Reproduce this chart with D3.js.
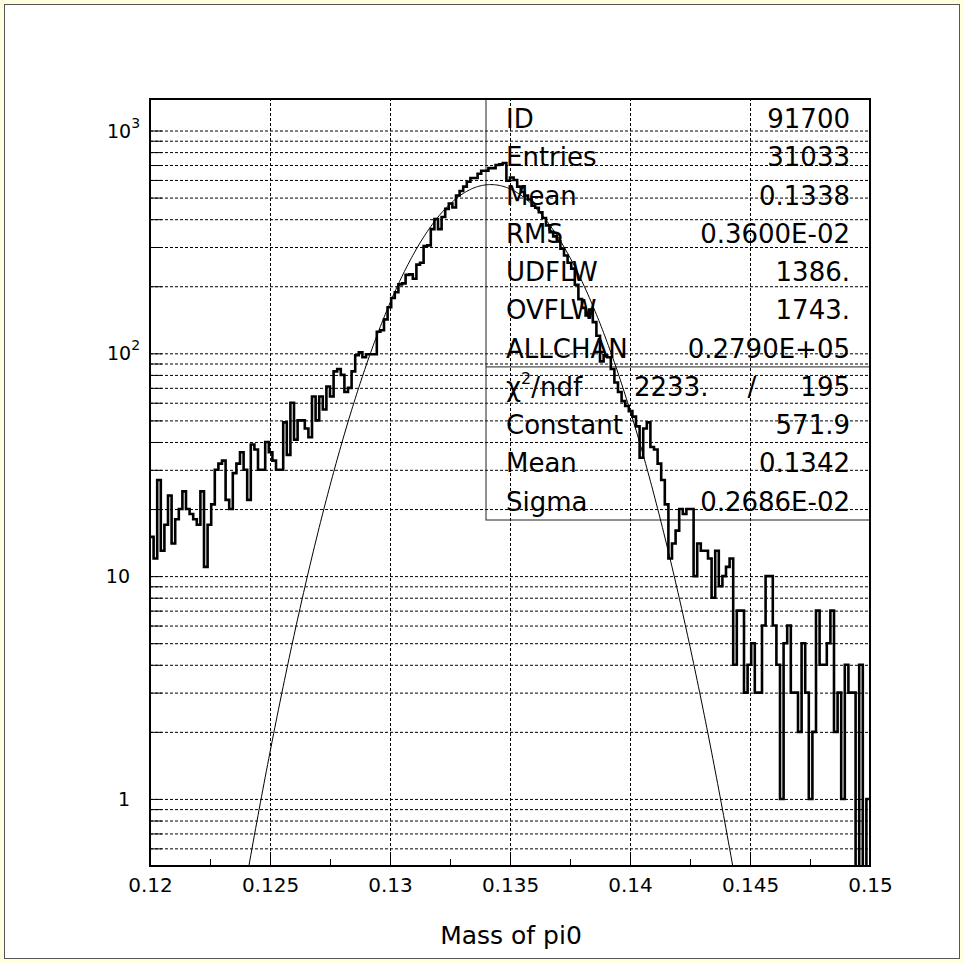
<!DOCTYPE html>
<html>
<head>
<meta charset="utf-8">
<script src="https://cdn.jsdelivr.net/npm/d3@7"></script>
<style>
  body { margin: 0; background: #ffffe0; }
  text { font-family: "DejaVu Sans", sans-serif; fill: #000; }
</style>
</head>
<body>
<svg id="chart" width="964" height="963"></svg>
<script>
// histogram: 200 bins from 0.12 to 0.15
const xMin = 0.12;
const xMax = 0.15;
const counts = [
  15, 12, 27, 13, 17, 23, 14, 18, 20, 24, 20, 19, 18, 17, 24, 11, 17, 21, 30, 32,
  33, 22, 20, 29, 32, 36, 30, 22, 39, 37, 30, 30, 40, 36, 33, 30, 30, 49, 35, 60,
  41, 50, 50, 46, 42, 64, 50, 64, 56, 71, 64, 83, 85, 80, 67, 70, 83, 98, 101, 96,
  99, 99, 99, 125, 127, 142, 161, 177, 188, 204, 206, 225, 226, 216, 250, 255, 303, 305, 361, 401,
  361, 409, 445, 470, 451, 511, 535, 560, 589, 612, 612, 640, 660, 660, 678, 678, 700, 705, 715, 595,
  615, 600, 560, 530, 510, 490, 460, 450, 430, 405, 375, 350, 335, 318, 295, 275, 255, 240, 203, 175,
  160, 148, 157, 138, 120, 92, 98, 96, 85, 74, 67, 61, 58, 55, 52, 47, 34, 46, 49, 38,
  37, 32, 27, 21, 12, 14, 16, 20, 19, 20, 20, 10, 14, 13, 13, 12, 8, 13, 9, 10,
  11, 12, 4, 7, 7, 3, 4, 5, 3, 3, 6, 10, 10, 6, 4, 1, 5, 6, 3, 3,
  2, 5, 3, 1, 2, 7, 4, 4, 5, 7, 2, 3, 1, 4, 3, 3, 0, 4, 0, 1
];

// gaussian fit parameters
const fitConstant = 571.9;
const fitMean = 0.1342;
const fitSigma = 0.2686e-2;

// axis ticks
const xMajorTicks = [0.12, 0.125, 0.13, 0.135, 0.14, 0.145, 0.15];
const xMinorTicks = [0.1225, 0.1275, 0.1325, 0.1375, 0.1425, 0.1475];
const yDecades = [1, 10, 100, 1000];
const yGrid = [0.6, 0.7, 0.8, 0.9, 1, 2, 3, 4, 5, 6, 7, 8, 9, 10, 20, 30, 40, 50, 60, 70, 80, 90,
  100, 200, 300, 400, 500, 600, 700, 800, 900, 1000];

// statistics box
const statLabels = ["ID", "Entries", "Mean", "RMS", "UDFLW", "OVFLW", "ALLCHAN"];
const statValues = ["91700", "31033", "0.1338", "0.3600E-02", "1386.", "1743.", "0.2790E+05"];
const fitLabels = ["Constant", "Mean", "Sigma"];
const fitValues = ["571.9", "0.1342", "0.2686E-02"];
const chi2 = "2233.";
const ndf = "195";

const svg = d3.select("#chart");

// page frame
svg.append("rect")
  .attr("x", 4.5).attr("y", 4.5)
  .attr("width", 955).attr("height", 954)
  .attr("fill", "#fff")
  .attr("stroke", "#555")
  .attr("stroke-width", 1);

const pLeft = 150, pRight = 870, pTop = 99, pBottom = 866;
const plotW = pRight - pLeft, plotH = pBottom - pTop;

const x = d3.scaleLinear().domain([xMin, xMax]).range([pLeft, pRight]);
const y = d3.scaleLog().domain([0.5, 1385]).range([pBottom, pTop]);

svg.append("clipPath").attr("id", "plotClip")
  .append("rect").attr("x", pLeft).attr("y", pTop).attr("width", plotW).attr("height", plotH);

// grid
svg.append("g")
  .attr("transform", `translate(${pLeft},0)`)
  .call(d3.axisLeft(y).tickValues(yGrid).tickSize(-plotW).tickFormat(""))
  .call(g => g.select(".domain").remove())
  .call(g => g.selectAll("line").attr("stroke", "#000").attr("stroke-dasharray", "3,2"));

svg.append("g")
  .attr("transform", `translate(0,${pBottom})`)
  .call(d3.axisBottom(x).tickValues(xMajorTicks.slice(1, -1)).tickSize(-plotH).tickFormat(""))
  .call(g => g.select(".domain").remove())
  .call(g => g.selectAll("line").attr("stroke", "#000").attr("stroke-dasharray", "3,2"));

// statistics box
const boxLeft = 486, boxBottom = 520, rowH = (boxBottom - pTop) / 11;
const box = svg.append("g");
box.append("rect")
  .attr("x", boxLeft).attr("y", pTop)
  .attr("width", pRight - boxLeft).attr("height", boxBottom - pTop)
  .attr("fill", "none").attr("stroke", "#222").attr("stroke-width", 1);
box.append("line")
  .attr("x1", boxLeft).attr("x2", pRight)
  .attr("y1", pTop + rowH * 7).attr("y2", pTop + rowH * 7)
  .attr("stroke", "#222").attr("stroke-width", 1);

const rowY = i => pTop + rowH * i + 29;
const fs = 26;
statLabels.forEach((t, i) => {
  box.append("text").attr("x", 506).attr("y", rowY(i)).attr("font-size", fs).text(t);
  box.append("text").attr("x", 850).attr("y", rowY(i)).attr("font-size", fs)
    .attr("text-anchor", "end").text(statValues[i]);
});
const chiRow = box.append("text").attr("x", 506).attr("y", rowY(7)).attr("font-size", fs);
chiRow.append("tspan").text("χ");
chiRow.append("tspan").attr("font-size", 16).attr("dy", -12).text("2");
chiRow.append("tspan").attr("dy", 12).text("/ndf");
box.append("text").attr("x", 634).attr("y", rowY(7)).attr("font-size", fs).text(chi2);
box.append("text").attr("x", 752).attr("y", rowY(7)).attr("font-size", fs)
  .attr("text-anchor", "middle").text("/");
box.append("text").attr("x", 850).attr("y", rowY(7)).attr("font-size", fs)
  .attr("text-anchor", "end").text(ndf);
fitLabels.forEach((t, i) => {
  box.append("text").attr("x", 506).attr("y", rowY(8 + i)).attr("font-size", fs).text(t);
  box.append("text").attr("x", 850).attr("y", rowY(8 + i)).attr("font-size", fs)
    .attr("text-anchor", "end").text(fitValues[i]);
});

// histogram outline
const binW = (xMax - xMin) / counts.length;
const steps = counts.map((c, i) => ({ x: xMin + i * binW, c }));
steps.push({ x: xMax, c: counts[counts.length - 1] });
const stepLine = d3.line()
  .x(d => x(d.x))
  .y(d => d.c > 0 ? y(d.c) : pBottom + 10)
  .curve(d3.curveStepAfter);

const plot = svg.append("g").attr("clip-path", "url(#plotClip)");
plot.append("path")
  .datum(steps)
  .attr("d", stepLine)
  .attr("fill", "none")
  .attr("stroke", "#000")
  .attr("stroke-width", 2.6);

// gaussian fit curve
const fitX = d3.range(0, 601).map(i => xMin + i * (xMax - xMin) / 600);
const fitLine = d3.line()
  .x(d => x(d))
  .y(d => {
    const v = fitConstant * Math.exp(-0.5 * ((d - fitMean) / fitSigma) ** 2);
    return v > 0.3 ? y(v) : pBottom + 20;
  });
plot.append("path")
  .datum(fitX)
  .attr("d", fitLine)
  .attr("fill", "none")
  .attr("stroke", "#000")
  .attr("stroke-width", 1);

// axes ticks
svg.append("g")
  .attr("transform", `translate(0,${pBottom})`)
  .call(d3.axisBottom(x).tickValues(xMajorTicks).tickSizeInner(-14).tickSizeOuter(0)
    .tickPadding(12).tickFormat(d3.format("")))
  .call(g => g.select(".domain").remove())
  .call(g => g.selectAll("text").attr("font-size", 20).style("font-family", "DejaVu Sans"));
svg.append("g")
  .attr("transform", `translate(0,${pBottom})`)
  .call(d3.axisBottom(x).tickValues(xMinorTicks).tickSizeInner(-7).tickSizeOuter(0).tickFormat(""))
  .call(g => g.select(".domain").remove());

svg.append("g")
  .attr("transform", `translate(${pLeft},0)`)
  .call(d3.axisLeft(y).tickValues(yGrid).tickSizeInner(-12).tickSizeOuter(0).tickFormat(""))
  .call(g => g.select(".domain").remove());

// y labels with superscript exponents
const yLab = svg.append("g");
yDecades.forEach(v => {
  const exp = Math.round(Math.log10(v));
  const t = yLab.append("text").attr("font-size", 19).attr("y", y(v) + 7);
  if (exp <= 1) {
    t.attr("x", 130).attr("text-anchor", "end").text(v);
  } else {
    t.attr("x", 107);
    t.append("tspan").text("10");
    t.append("tspan").attr("font-size", 14).attr("dy", -10).text(exp);
  }
});

// frame
svg.append("rect")
  .attr("x", pLeft).attr("y", pTop)
  .attr("width", plotW).attr("height", plotH)
  .attr("fill", "none").attr("stroke", "#000").attr("stroke-width", 2);

// x title
svg.append("text")
  .attr("x", 511).attr("y", 944)
  .attr("text-anchor", "middle")
  .attr("font-size", 25)
  .text("Mass of pi0");
</script>
</body>
</html>
